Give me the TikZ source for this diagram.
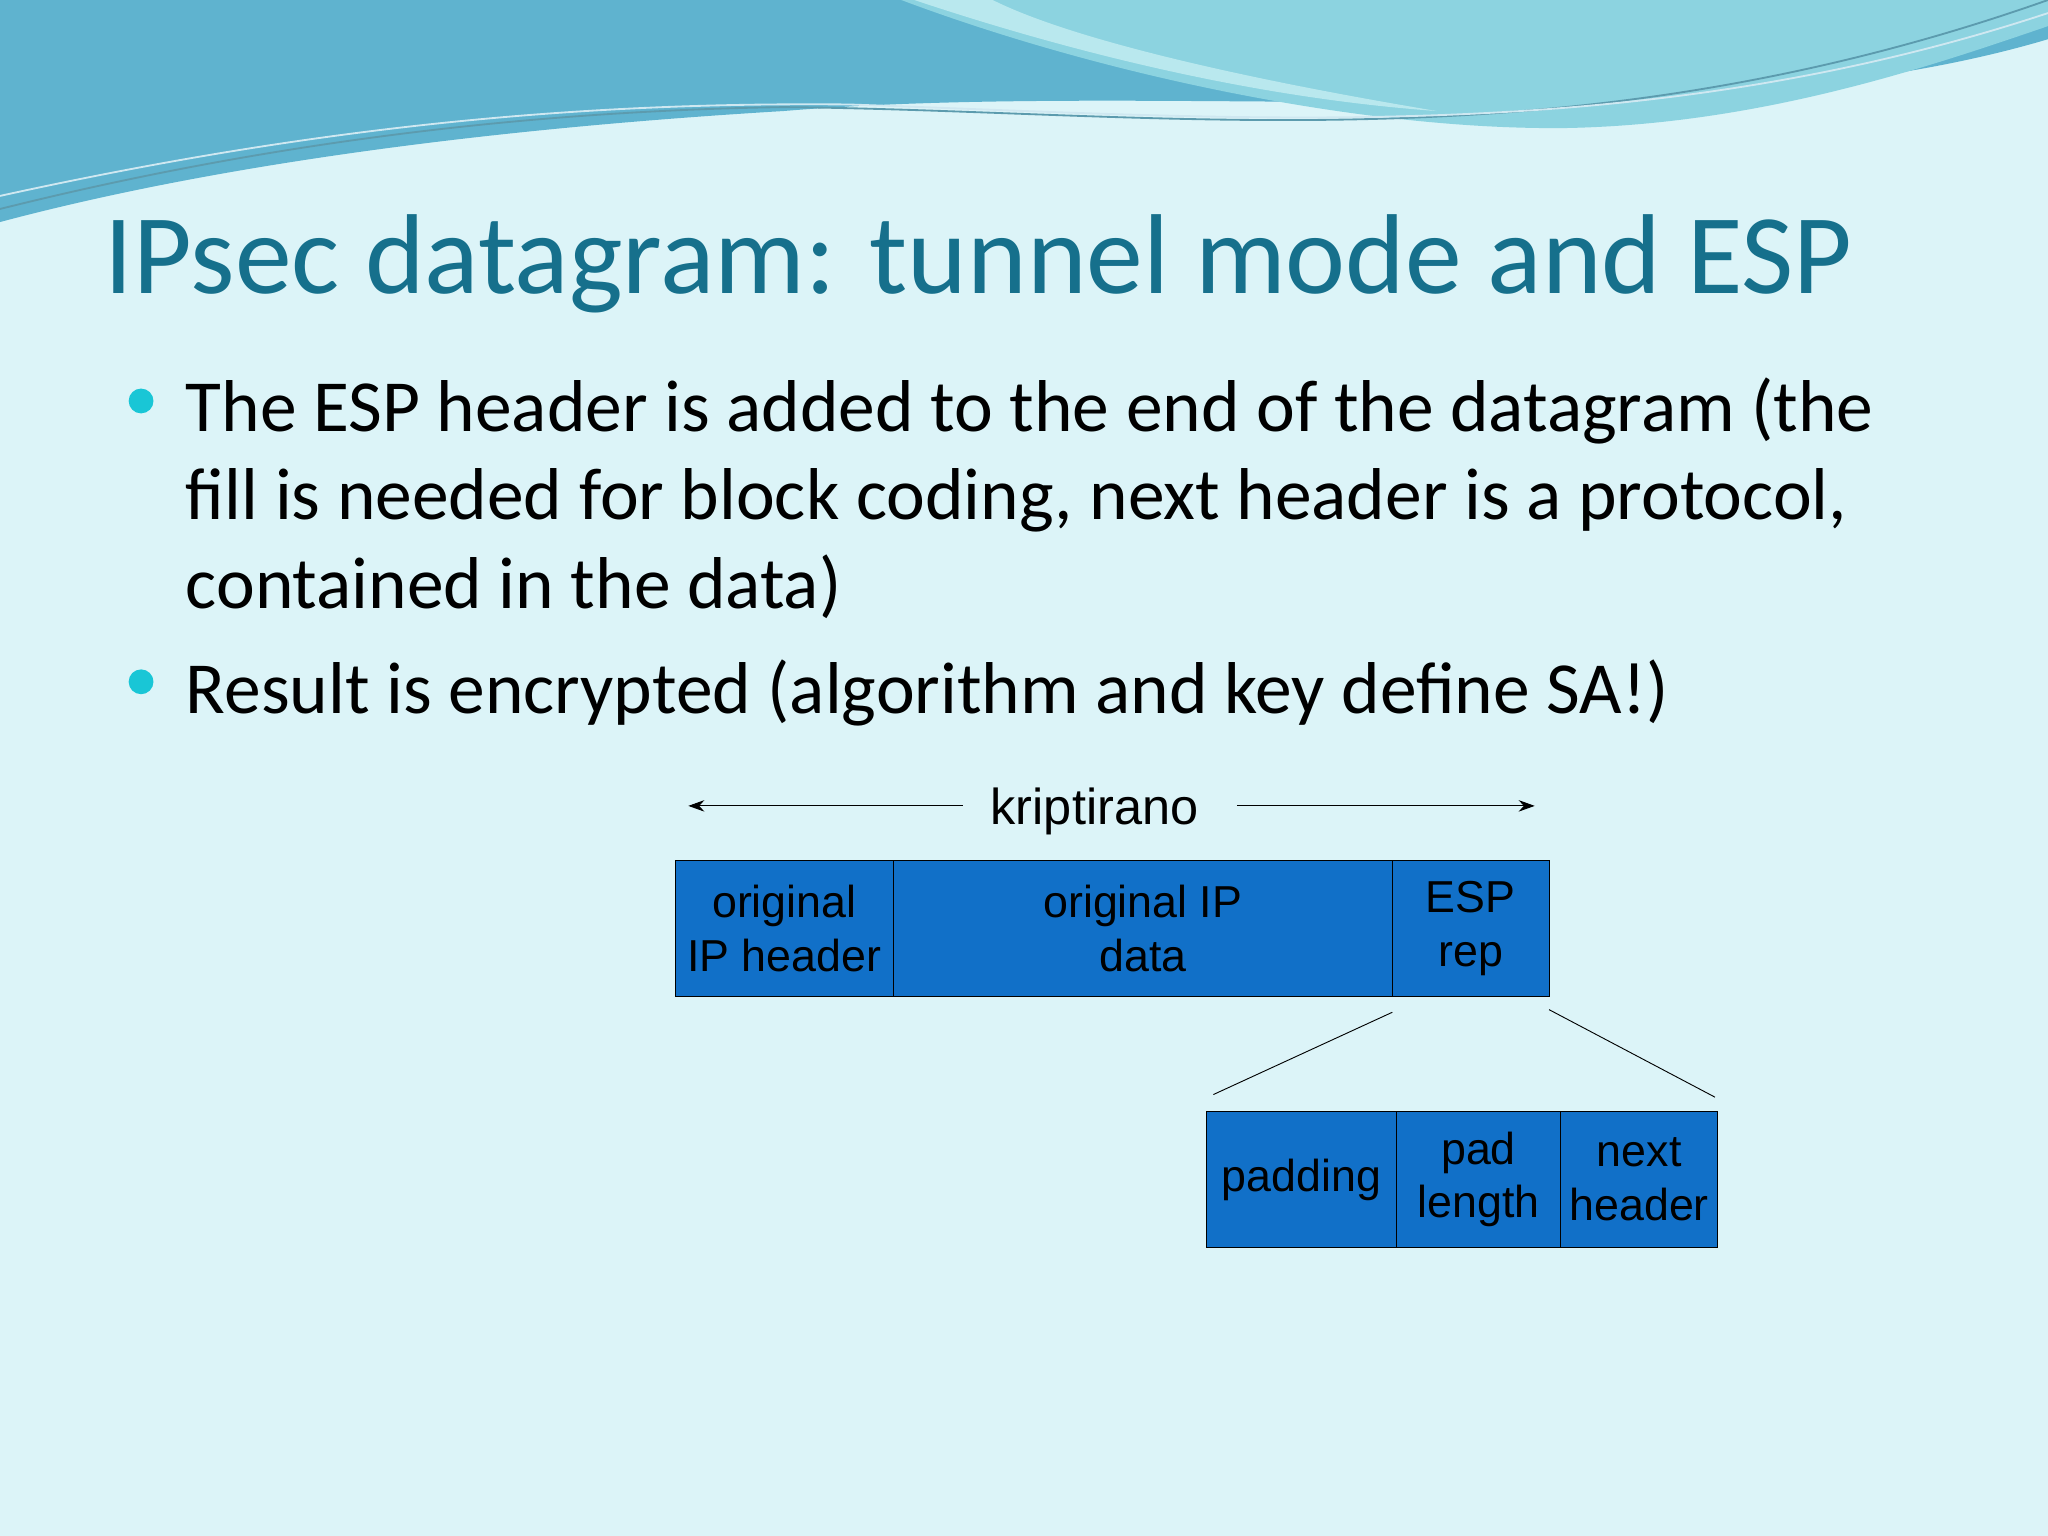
\documentclass[tikz,border=0pt]{standalone}
\usepackage{fontspec}
\setmainfont{Carlito}
\newfontfamily\arialf{Liberation Sans}
\usetikzlibrary{arrows.meta}
\definecolor{bgc}{HTML}{DCF4F8}
\definecolor{titlec}{HTML}{16708C}
\definecolor{boxc}{HTML}{1170C8}
\definecolor{wavea}{HTML}{5FB3CF}
\definecolor{waveb}{HTML}{8CD3E0}
\definecolor{wavec}{HTML}{B9E8EE}
\definecolor{bulc}{HTML}{19C6D6}
\begin{document}
\begin{tikzpicture}[x=0.02cm,y=-0.02cm,
  fbox/.style={draw=black,fill=boxc,minimum height=104*0.02cm,inner sep=0pt,font=\arialf\fontsize{19.5}{23.5}\selectfont,align=center,text=black},
  btext/.style={anchor=base west,font=\fontsize{32}{38}\selectfont,text=black,align=left},
  bul/.style={circle,fill=bulc,minimum size=0.38cm,inner sep=0pt}]
\useasboundingbox (0,0) rectangle (1568,1176);
\fill[bgc] (0,0) rectangle (1568,1176);
% top waves
\fill[wavea] (0,0) -- (1568,0) -- (1568,30) .. controls (1300,110) and (900,60) .. (600,85) .. controls (350,100) and (150,130) .. (0,170) -- cycle;
\fill[waveb] (690,0) .. controls (850,60) and (1050,100) .. (1200,98) .. controls (1350,95) and (1480,50) .. (1568,20) -- (1568,0) -- cycle;
\fill[wavec] (700,0) .. controls (820,40) and (960,75) .. (1100,85) .. controls (950,60) and (820,30) .. (760,0) -- cycle;
\draw[titlec!70,line width=0.8pt] (0,160) .. controls (200,110) and (400,85) .. (600,82) .. controls (900,85) and (1200,130) .. (1568,0);
\draw[white!70!wavea,line width=0.8pt] (0,150) .. controls (250,95) and (450,78) .. (650,80) .. controls (950,90) and (1250,115) .. (1568,10);
% title
\node[anchor=base west,font=\fontsize{49.5}{58}\selectfont,text=titlec,inner sep=0pt] (title) at (80,225) {IPsec datagram: tunnel mode and ESP};
% bullets
\node[bul] (b1) at (108,307) {};
\node[bul] (b2) at (108,522) {};
\node[btext,inner sep=0pt] (t1) at (142,330) {The ESP header is added to the end of the datagram (the};
\node[btext,inner sep=0pt] (t1b) at (142,398) {fill is needed for block coding, next header is a protocol,};
\node[btext,inner sep=0pt] (t1c) at (142,466) {contained in the data)};
\node[btext,inner sep=0pt] (t2) at (142,546) {Result is encrypted (algorithm and key define SA!)};
% diagram
\node[font=\arialf\fontsize{22}{26}\selectfont] (kr) at (838,621) {kriptirano};
\coordinate (al) at (527,617); \coordinate (ar) at (1175,617);
\coordinate (kl) at (737,617); \coordinate (krr) at (947,617);
\draw[-{Stealth[length=7pt,width=5pt]}] (kl) -- (al);
\draw[-{Stealth[length=7pt,width=5pt]}] (krr) -- (ar);
\node[fbox,minimum width=167*0.02cm] (oh) at (600.5,711) {original\\IP header};
\node[fbox,minimum width=382*0.02cm] (od) at (875,711) {original IP\\data};
\node[fbox,minimum width=120*0.02cm] (esp) at (1126,711) {ESP\\rep};
\node[fbox,minimum width=145*0.02cm] (pad) at (996.5,903) {padding};
\node[fbox,minimum width=126*0.02cm] (pl) at (1132,903) {pad\\length};
\node[fbox,minimum width=120*0.02cm] (nh) at (1255,903) {next\\header};
\coordinate (c1) at (1066,775); \coordinate (c2) at (929,838);
\coordinate (c3) at (1186,773); \coordinate (c4) at (1313,840);
\draw (c1) -- (c2);
\draw (c3) -- (c4);
\end{tikzpicture}
\end{document}
